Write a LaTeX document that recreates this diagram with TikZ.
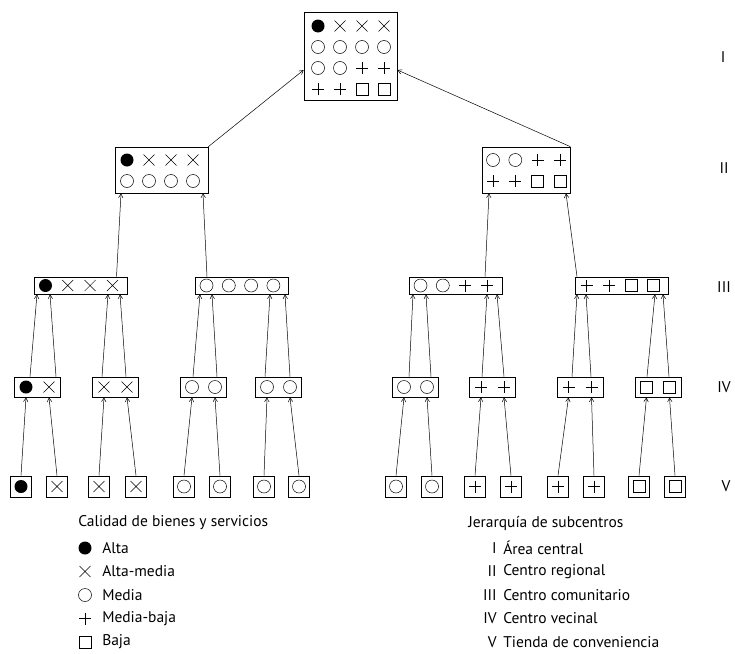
\documentclass[tikz,border=0pt]{standalone}
\usepackage{fontspec}
\setmainfont{PT Sans}
\usetikzlibrary{arrows.meta}
\tikzstyle{box}=[draw,rectangle,inner sep=0pt,line width=0.7pt]
\tikzstyle{txt}=[inner sep=0pt,font=\fontsize{15.5}{18}\selectfont]
\tikzset{pics/sym/.style={code={\csname qsym#1\endcsname}}}
\newcommand\qsyma{\fill (0,0) circle (6.5);}
\newcommand\qsymx{\draw (-5.5,-5.5) -- (5.5,5.5) (-5.5,5.5) -- (5.5,-5.5);}
\newcommand\qsymo{\draw (0,0) circle (6.5);}
\newcommand\qsymp{\draw (-6,0) -- (6,0) (0,-6) -- (0,6);}
\newcommand\qsyms{\draw (-6,-6) rectangle (6,6);}

\begin{document}
\begin{tikzpicture}[x=1pt,y=-1pt,line width=0.5pt,>={Straight Barb[length=4pt,width=4.5pt]}]
\useasboundingbox (0,0) rectangle (735,653);

% level I
\node[box, minimum width=93, minimum height=88] (I) at (350.5,56) {};
\foreach \s [count=\i from 0] in {a,x,x,x,o,o,o,o,o,o,p,p,p,p,s,s}
  \pic at ({318+22*mod(\i,4)},{26+21*int(\i/4)}) {sym=\s};

% level II
\node[box, minimum width=93, minimum height=46] (IIa) at (161.5,170) {};
\node[box, minimum width=88, minimum height=46] (IIb) at (526,170) {};
\foreach \s [count=\i from 0] in {a,x,x,x,o,o,o,o}
  \pic at ({127+22*mod(\i,4)},{160+21*int(\i/4)}) {sym=\s};
\foreach \s [count=\i from 0] in {o,o,p,p,p,p,s,s}
  \pic at ({493+22.3*mod(\i,4)},{160+21*int(\i/4)}) {sym=\s};

% level III
\node[box, minimum width=93, minimum height=17] (IIIa) at (80.5,285.5) {};
\node[box, minimum width=93, minimum height=17] (IIIb) at (241.5,285.5) {};
\node[box, minimum width=93, minimum height=17] (IIIc) at (455.5,285.5) {};
\node[box, minimum width=93, minimum height=17] (IIId) at (621.5,285.5) {};
\foreach \c/\l in {80.5/{a,x,x,x},241.5/{o,o,o,o},455.5/{o,o,p,p},621.5/{p,p,s,s}}
  \foreach \s [count=\i from 0] in \l
    \pic at ({\c-35+22.3*\i},285.5) {sym=\s};

% level IV
\foreach \c/\l [count=\k] in {37.5/{a,x},115.5/{x,x},203.5/{o,o},278.5/{o,o},
                              415.5/{o,o},492.5/{p,p},580/{p,p},658/{s,s}} {
  \node[box, minimum width=46, minimum height=20] (IV\k) at (\c,387) {};
  \foreach \s [count=\i from 0] in \l
    \pic at ({\c-11.5+23*\i},387) {sym=\s};
}

% level V
\foreach \c/\s [count=\k] in {21/a,57/x,99/x,136/x,184/o,220/o,264/o,299/o,
                              396/o,432/o,475/p,511/p,558/p,594/p,639/s,675/s} {
  \node[box, minimum width=21, minimum height=21] (V\k) at (\c,486.5) {};
  \pic at (\c,486.5) {sym=\s};
}

% arrows
\foreach \k in {1,...,8} {
  \pgfmathtruncatemacro\a{2*\k-1}
  \pgfmathtruncatemacro\b{2*\k}
  \draw[->] (V\a.north) -- ([xshift=-11.5]IV\k.south);
  \draw[->] (V\b.north) -- ([xshift=11.5]IV\k.south);
}
\foreach \f/\fs/\t/\ts in {IV1/-7.5/IIIa/-43.5, IV1/18.5/IIIa/-30.5,
                           IV2/-13.5/IIIa/27.5, IV2/10.5/IIIa/39.5,
                           IV3/-10.5/IIIb/-41.5, IV3/13.5/IIIb/-29.5,
                           IV4/-13.5/IIIb/28.5, IV4/11.5/IIIb/43.5,
                           IV5/-6.5/IIIc/-42.5, IV5/15.5/IIIc/-29.5,
                           IV6/-10.5/IIIc/31.5, IV6/11.5/IIIc/41.5,
                           IV7/-8/IIId/-44.5, IV7/11/IIId/-35.5,
                           IV8/-11/IIId/33.5, IV8/11/IIId/41.5,
                           IIIa/36/IIa/-40.5, IIIb/-34.5/IIa/41.5,
                           IIIc/29.5/IIb/-37, IIId/-44.5/IIb/40}
  \draw[->] ([xshift=\fs]\f.north) -- ([xshift=\ts]\t.south);
\draw[->] (IIa.north east) -- ([yshift=-14]I.west);
\draw[->] (IIb.north east) -- ([yshift=-14]I.east);

% level names
\node[txt] (lI)   at (723,57)  {I};
\node[txt] (lII)  at (724,168) {II};
\node[txt] (lIII) at (724,287) {III};
\node[txt] (lIV)  at (724,387) {IV};
\node[txt] (lV)   at (726,486) {V};

% legends
\node[txt, anchor=west] (cal) at (78,523) {Calidad de bienes y servicios};
\foreach \s/\t [count=\i from 0] in {a/Alta,x/Alta-media,o/Media,p/Media-baja,s/Baja} {
  \pic at (85,{548+23.5*\i}) {sym=\s};
  \node[txt, anchor=west] (cal\i) at (102,{548+23.5*\i}) {\t};
}
\node[txt, anchor=west] (jer) at (468,523) {Jerarquía de subcentros};
\foreach \n/\t [count=\i from 0] in {I/Área central,II/Centro regional,III/Centro comunitario,
                                     IV/Centro vecinal,V/Tienda de conveniencia} {
  \node[txt, anchor=east] (jn\i) at (497,{548+23.5*\i}) {\n};
  \node[txt, anchor=west] (jt\i) at (503,{548+23.5*\i}) {\t};
}
\end{tikzpicture}
\end{document}
